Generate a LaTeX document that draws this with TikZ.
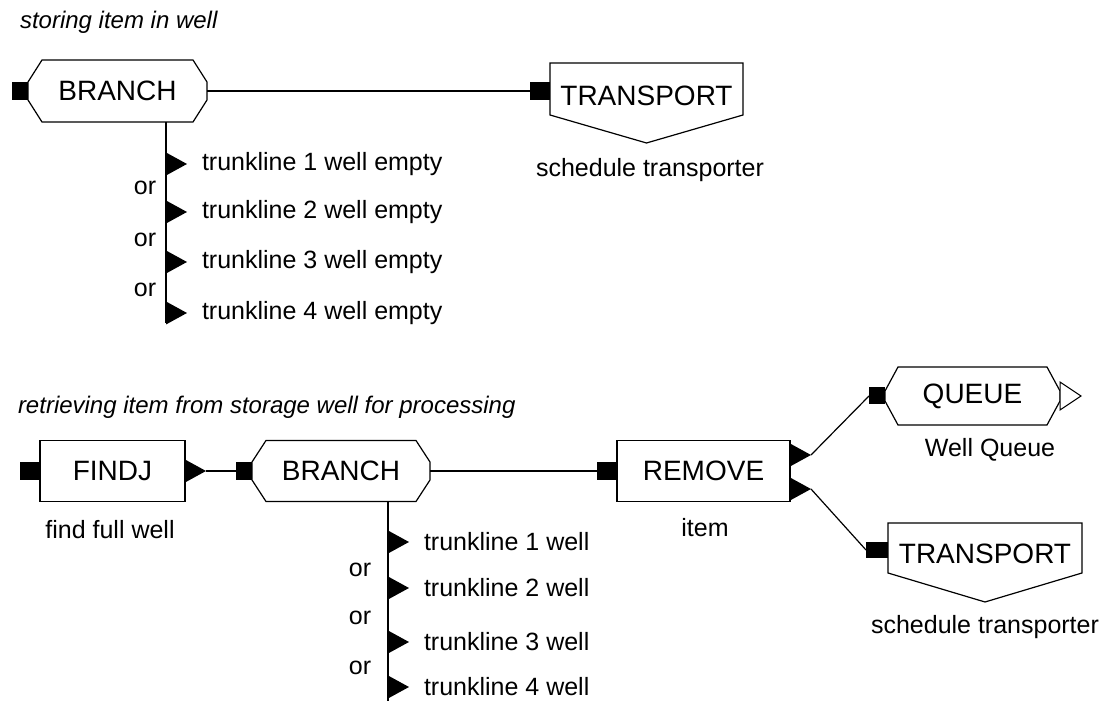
\documentclass[tikz,border=0pt]{standalone}
\usepackage{fontspec}
\setmainfont{Liberation Sans}
\usetikzlibrary{positioning,calc,shapes.geometric}
\newcommand{\blockfont}{\fontsize{28}{30}\selectfont}
\newcommand{\lblfont}{\fontsize{25}{27}\selectfont}
\newcommand{\ttlfont}{\fontsize{24}{26}\selectfont\itshape}
% octagon outline round a node: name, corner cut, half of the side
\newcommand{\octo}[3]{\draw ($(#1.north west)+(#2,0)$) -- ($(#1.north east)+(-#2,0)$) -- ($(#1.east)+(0,#3)$) -- ($(#1.east)+(0,-#3)$) -- ($(#1.south east)+(-#2,0)$) -- ($(#1.south west)+(#2,0)$) -- ($(#1.west)+(0,-#3)$) -- ($(#1.west)+(0,#3)$) -- cycle;}

\begin{document}
\begin{tikzpicture}[x=1pt,y=1pt,line width=1.2pt,
  every node/.style={inner sep=0pt,outer sep=0pt},
  block/.style={draw,rectangle,font=\blockfont},
  inport/.style={fill=black,minimum width=16pt,minimum height=18pt},
  outport/.style={isosceles triangle,isosceles triangle stretches,fill=black,minimum width=23pt,minimum height=21pt,anchor=lower side},
  lbl/.style={font=\lblfont},
  ttl/.style={font=\ttlfont,anchor=west}]
\useasboundingbox (0,0) rectangle (1109,701);
% TOP: storing item in well
\node[ttl] (t1) at (20,679) {storing item in well};
\node[font=\blockfont,minimum width=179pt,minimum height=62pt] (br1) at (117.5,610) {BRANCH};
\octo{br1}{14}{9}
\node[inport,left=0pt of br1] (br1in) {};
\node[font=\blockfont,minimum width=193pt,minimum height=66pt] (tr1) at (646.5,605) {TRANSPORT};
\draw (tr1.north west) -- (tr1.north east) -- ($(tr1.north east)+(0,-52)$) -- ($(tr1.north)+(0,-80)$) -- ($(tr1.north west)+(0,-52)$) -- cycle;
\node[inport,minimum width=20pt] (tr1in) at (540,610) {};
\draw (br1.east) -- (tr1in.west);
\node[lbl] (tr1lb) at (650,531) {schedule transporter};
% branch outputs (four trunklines)
\coordinate (b1end) at (166,378);
\draw (br1.south -| b1end) -- (b1end);
\foreach \y [count=\i] in {537,489,439,388} {
  \node[outport] (b1o\i) at (166,\y) {};
  \node[lbl,right=15pt of b1o\i] (b1l\i) {trunkline \i\ well empty};
}
\foreach \y [count=\i] in {513,461,411}
  \node[lbl] (b1or\i) at (145,\y) {or};
% BOTTOM: retrieving item from storage well
\node[ttl] (t2) at (18,294) {retrieving item from storage well for processing};
\node[block,minimum width=145pt,minimum height=61pt] (fj) at (112.5,230) {FINDJ};
\node[inport,minimum width=20pt,left=0pt of fj] (fjin) {};
\node[outport] (fjout) at (fj.east) {};
\node[lbl] (fjlb) at (110,171) {find full well};
\node[font=\blockfont,minimum width=178pt,minimum height=61pt] (br2) at (341,230) {BRANCH};
\octo{br2}{14}{9}
\node[inport,left=0pt of br2] (br2in) {};
\draw (fjout.apex) -- (br2in.west);
\coordinate (b2end) at (388,0);
\draw (br2.south -| b2end) -- (b2end);
\foreach \y [count=\i] in {159,113,59,14} {
  \node[outport] (b2o\i) at (388,\y) {};
  \node[lbl,right=15pt of b2o\i] (b2l\i) {trunkline \i\ well};
}
\foreach \y [count=\i] in {131,83,33}
  \node[lbl] (b2or\i) at (360,\y) {or};
% remove, then queue or transport
\node[block,minimum width=173pt,minimum height=61pt] (rm) at (703.5,230) {REMOVE};
\node[inport,minimum width=20pt,left=0pt of rm] (rmin) {};
\draw (br2.east) -- (rmin.west);
\node[outport] (rmo1) at ($(rm.east)+(0,16)$) {};
\node[outport] (rmo2) at ($(rm.east)+(0,-18)$) {};
\node[lbl] (rmlb) at (705,173) {item};
\node[font=\blockfont,minimum width=175pt,minimum height=58pt] (q) at (972.5,305) {QUEUE};
\octo{q}{13}{5}
\node[inport,minimum height=17pt,left=0pt of q] (qin) {};
\node[outport,fill=white,draw,line width=1pt,minimum width=28pt] (qout) at (q.east) {};
\node[lbl] (qlb) at (990,251) {Well Queue};
\node[font=\blockfont,minimum width=194pt,minimum height=62pt] (tr2) at (985,147) {TRANSPORT};
\draw (tr2.north west) -- (tr2.north east) -- ($(tr2.north east)+(0,-50)$) -- ($(tr2.north)+(0,-79)$) -- ($(tr2.north west)+(0,-50)$) -- cycle;
\node[inport,minimum width=22pt,minimum height=16pt] (tr2in) at (877,151) {};
\draw (rmo1.apex) -- (qin.west);
\draw (rmo2.apex) -- (tr2in.west);
\node[lbl] (tr2lb) at (985,74) {schedule transporter};
\end{tikzpicture}
\end{document}
